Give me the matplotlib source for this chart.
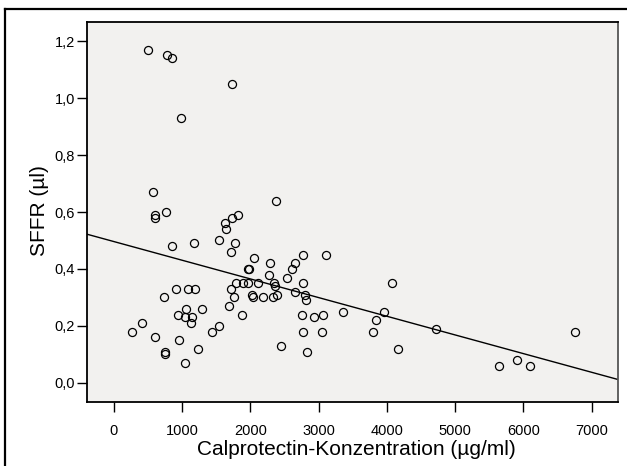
import numpy as np
import matplotlib
matplotlib.use("Agg")
import matplotlib.pyplot as plt
from matplotlib.ticker import FuncFormatter
from matplotlib.lines import Line2D

plt.rcParams['font.family'] = ['Liberation Sans', 'DejaVu Sans']

# Calprotectin (µg/ml) vs SFFR (µl)
calpro = [498, 780, 854, 1728, 985, 575, 608, 608, 771, 2381,
          1625, 1640, 1735, 1820, 1547, 852, 1173, 1781, 1722, 2059,
          2289, 2658, 2777, 3109, 2611, 1960, 1975, 2279, 2536, 1791,
          1895, 1968, 2117, 2345, 2357, 2775, 1715, 1760, 2023, 2035,
          2186, 2337, 2391, 2648, 2806, 2811, 1688, 1874, 2760, 2929,
          2767, 2455, 2826, 739, 905, 1081, 1186, 937, 1054, 1293,
          1044, 1142, 1132, 266, 408, 609, 748, 748, 956, 1044,
          1237, 1439, 1535, 4072, 3065, 3360, 3960, 3838, 3055, 3795,
          4719, 4168, 6755, 5638, 5910, 6092]
sffr = [1.17, 1.15, 1.14, 1.05, 0.93, 0.67, 0.59, 0.58, 0.60, 0.64,
        0.56, 0.54, 0.58, 0.59, 0.50, 0.48, 0.49, 0.49, 0.46, 0.44,
        0.42, 0.42, 0.45, 0.45, 0.40, 0.40, 0.40, 0.38, 0.37, 0.35,
        0.35, 0.35, 0.35, 0.35, 0.34, 0.35, 0.33, 0.30, 0.31, 0.30,
        0.30, 0.30, 0.31, 0.32, 0.31, 0.29, 0.27, 0.24, 0.24, 0.23,
        0.18, 0.13, 0.11, 0.30, 0.33, 0.33, 0.33, 0.24, 0.26, 0.26,
        0.23, 0.23, 0.21, 0.18, 0.21, 0.16, 0.11, 0.10, 0.15, 0.07,
        0.12, 0.18, 0.20, 0.35, 0.24, 0.25, 0.25, 0.22, 0.18, 0.18,
        0.19, 0.12, 0.18, 0.06, 0.08, 0.06]

xticks = [0, 1000, 2000, 3000, 4000, 5000, 6000, 7000]
yticks = [0.0, 0.2, 0.4, 0.6, 0.8, 1.0, 1.2]
xlim = (-391, 7384)
ylim = (-0.067, 1.267)

fig = plt.figure(figsize=(6.27, 4.66), dpi=100)
ax = fig.add_axes([0.1388, 0.1373, 0.8468, 0.8155])
ax.set_facecolor('#f2f1ef')

ax.plot(calpro, sffr, 'o', mfc='none', mec='black', ms=5.8, mew=0.9, zorder=3)

# linear fit line across the whole axis
slope, icpt = np.polyfit(calpro, sffr, 1)
xs = np.array(xlim)
ax.plot(xs, icpt + slope * xs, color='black', lw=1.0, zorder=2)

ax.set_xlim(xlim)
ax.set_ylim(ylim)
ax.set_xticks(xticks)
ax.set_yticks(yticks)
ax.yaxis.set_major_formatter(FuncFormatter(lambda v, p: f"{v:.1f}".replace('.', ',')))
ax.tick_params(axis='both', direction='out', length=7, width=1, labelsize=10.5, colors='black')
ax.tick_params(axis='x', pad=9)
ax.tick_params(axis='y', pad=1.5)
for s in ax.spines.values():
    s.set_linewidth(1.3)
    s.set_color('black')
ax.spines['right'].set_color('#555555')

ax.set_xlabel('Calprotectin-Konzentration (µg/ml)', fontsize=15)
ax.set_ylabel('SFFR (µl)', fontsize=15)
ax.xaxis.set_label_coords(0.508, -0.1)
ax.yaxis.set_label_coords(-0.0725, 0.505)

# outer frame (left and top edges visible in the crop)
fig.add_artist(Line2D([5/627, 5/627], [0, 1 - 9/466], color='black', lw=1.6))
fig.add_artist(Line2D([5/627, 1], [1 - 9/466, 1 - 9/466], color='black', lw=1.6))

fig.savefig('out.png', dpi=100)
